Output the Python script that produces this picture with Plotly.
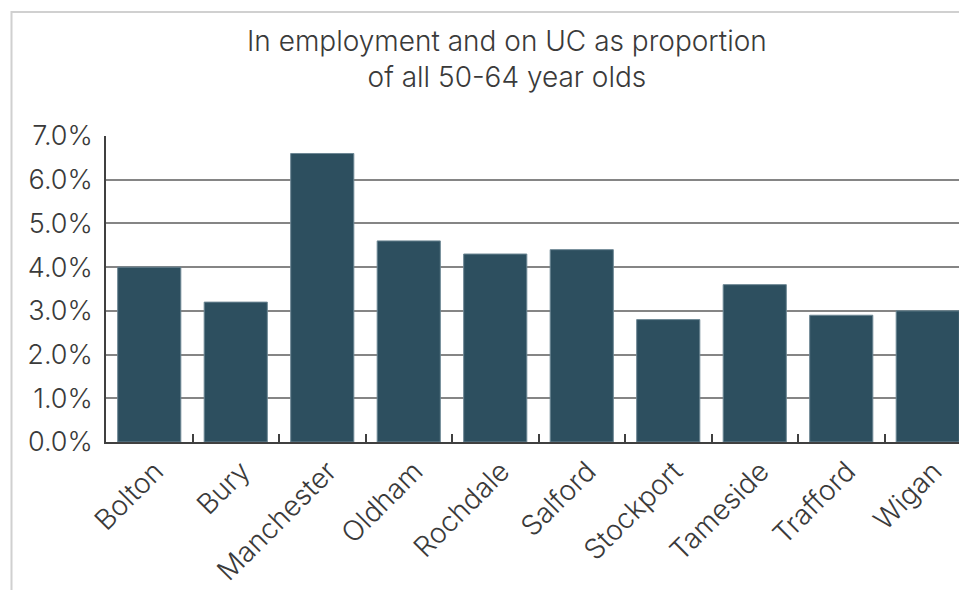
import plotly.graph_objects as go

# Share of all 50-64 year olds who are in employment and on Universal Credit
districts = ["Bolton", "Bury", "Manchester", "Oldham", "Rochdale",
             "Salford", "Stockport", "Tameside", "Trafford", "Wigan"]
share = [0.040, 0.032, 0.066, 0.046, 0.043, 0.044, 0.028, 0.036, 0.029, 0.030]

W, H = 959, 590
left, right, top, bottom = 106, 0, 136, 148
band = 86.5  # px per category
plot_w = W - left - right
plot_h = H - top - bottom
x_end = -0.5 + plot_w / band

px_x = lambda px: (px - left) / plot_w
px_y = lambda py: (H - bottom - py) / plot_h

fig = go.Figure(
    go.Bar(
        x=districts,
        y=share,
        width=0.73,
        marker=dict(color="#2d4f5f", line=dict(color="#6d8794", width=1)),
        hoverinfo="x+y",
    )
)

text_color = "#3a3a3a"

fig.update_layout(
    width=W,
    height=H,
    margin=dict(l=left, r=right, t=top, b=bottom, autoexpand=False),
    paper_bgcolor="white",
    plot_bgcolor="white",
    showlegend=False,
    bargap=0.27,
)

# Two-line chart title
fig.add_annotation(
    text="In employment and on UC as proportion<br>of all 50-64 year olds",
    xref="paper", yref="paper",
    x=px_x(507), y=px_y(59),
    xanchor="center", yanchor="middle",
    showarrow=False,
    align="center",
    font=dict(family="Inter", size=28, color=text_color, weight=300),
)

fig.update_xaxes(
    type="category",
    range=[-0.5, x_end],
    showgrid=False,
    showline=True,
    linecolor="#404040",
    linewidth=1.5,
    ticks="inside",
    tickson="boundaries",
    ticklen=8,
    tickcolor="#404040",
    tickwidth=1.5,
    tickangle=-45,
    ticklabelshift=6,
    tickfont=dict(family="Inter", size=28, color=text_color, weight=300),
    automargin=False,
)

fig.update_yaxes(
    range=[0, 0.07],
    dtick=0.01,
    tickformat=".1%",
    showgrid=True,
    gridcolor="#858585",
    gridwidth=1.5,
    showline=True,
    linecolor="#404040",
    linewidth=1.5,
    zeroline=False,
    ticks="",
    ticklabelstandoff=6,
    tickfont=dict(family="Inter", size=27, color=text_color, weight=300),
    automargin=False,
)

# Light frame along the top and left edges of the chart panel
fig.add_shape(
    type="path",
    xref="paper", yref="paper",
    path=f"M {px_x(11.5)} {px_y(700)} L {px_x(11.5)} {px_y(12)} L {px_x(1200)} {px_y(12)}",
    line=dict(color="#d0d0d0", width=2),
    layer="below",
)

fig.write_html("out.html")
